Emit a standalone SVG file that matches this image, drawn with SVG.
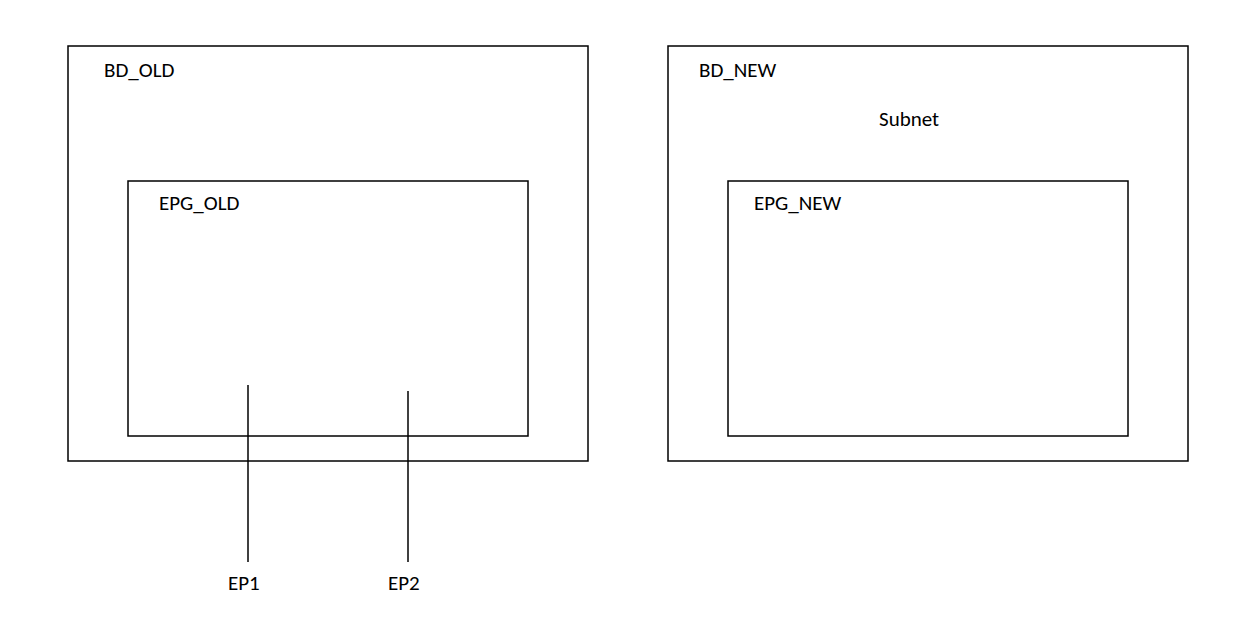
<svg xmlns="http://www.w3.org/2000/svg" width="1234" height="619" viewBox="0 0 1234 619">
<style>
rect{fill:none;stroke:#000;stroke-width:1.5}
line{stroke:#000;stroke-width:1.5}
text{font-family:Calibri,"Liberation Sans",Carlito,sans-serif;font-size:21px;fill:#000}
</style>
<rect x="0" y="0" width="1234" height="619" style="fill:#fff;stroke:none"/>
<g id="bd_old"><rect x="68" y="46" width="520" height="415"/><text x="104" y="77">BD_OLD</text></g>
<g id="epg_old"><rect x="128" y="181" width="400" height="255"/><text x="159" y="210">EPG_OLD</text></g>
<g id="bd_new"><rect x="668" y="46" width="520" height="415"/><text x="699" y="77">BD_NEW</text><text x="879" y="126">Subnet</text></g>
<g id="epg_new"><rect x="728" y="181" width="400" height="255"/><text x="754" y="210">EPG_NEW</text></g>
<g id="connectors"><line x1="248" y1="385" x2="248" y2="562"/><line x1="408" y1="391" x2="408" y2="562"/></g>
<g id="ep1"><text x="228" y="590">EP1</text></g>
<g id="ep2"><text x="388" y="590">EP2</text></g>
</svg>
